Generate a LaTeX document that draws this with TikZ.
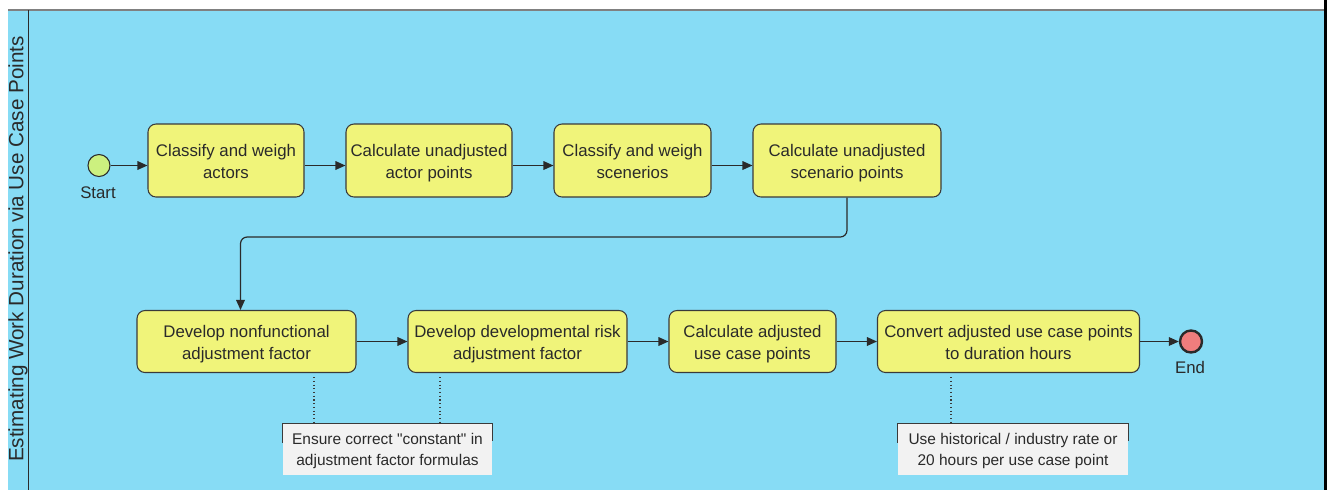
\documentclass[tikz,border=0pt]{standalone}
\usepackage{fontspec}
\setmainfont{Liberation Sans}
\usetikzlibrary{arrows.meta,calc}
\definecolor{poolblue}{HTML}{87DCF5}
\definecolor{taskfill}{HTML}{F0F47A}
\definecolor{startfill}{HTML}{CCF07F}
\definecolor{endfill}{HTML}{F07D7D}
\definecolor{notefill}{HTML}{F2F2F2}
\definecolor{ink}{HTML}{2A2A2A}
\definecolor{edge}{HTML}{3A3A3A}
\begin{document}
\begin{tikzpicture}[x=0.75pt,y=-0.75pt,
  boxsize/.style 2 args={minimum width=#1*0.75pt, minimum height=#2*0.75pt},
  task/.style={draw=edge, line width=0.8pt, fill=taskfill, rounded corners=6pt,
    inner sep=0pt, align=center, text=ink, font=\fontsize{12.6}{16.5}\selectfont,
    execute at begin node=\rule{0pt}{32pt}, execute at end node=\strut},
  event/.style={circle, draw=ink, inner sep=0pt, minimum size=16.5pt},
  evlabel/.style={text=ink, font=\fontsize{12.6}{15}\selectfont},
  flow/.style={draw=ink, line width=0.9pt, -{Triangle[length=7.5pt,width=6.5pt]}},
  note/.style={fill=notefill, inner sep=0pt, align=center, text=ink,
    font=\fontsize{11.6}{15.75}\selectfont,
    execute at begin node=\rule{0pt}{28pt}, execute at end node=\strut},
  noteline/.style={draw=edge, line width=0.8pt, dotted},
  bracket/.style={draw=edge, line width=0.9pt}]
\useasboundingbox (0,0) rectangle (1330,490);

% pool and lane header
\fill[poolblue] (8,10) rectangle (1325,490);
\draw[gray, line width=1.5pt] (8,10) -- (1325,10);
\draw[ink, line width=0.8pt] (28.5,10) -- (28.5,490);
\draw[black, line width=2.2pt] (1325.5,0) -- (1325.5,490);
\node[rotate=90, text=ink, font=\fontsize{15.5}{18}\selectfont] (lane) at (18,249)
  {Estimating Work Duration via Use Case Points};

% events
\node[event, fill=startfill, line width=0.8pt] (s) at (99,165.5) {};
\node[evlabel] (slab) at (98,193) {Start};
\node[event, fill=endfill, line width=1.8pt] (e) at (1191,341.5) {};
\node[evlabel] (elab) at (1190,367.5) {End};

% first row of tasks
\node[task, boxsize={156}{73}] (t1) at (226,160.5) {Classify and weigh\\actors};
\node[task, boxsize={166}{73}] (t2) at (429,160.5) {Calculate unadjusted\\actor points};
\node[task, boxsize={157}{73}] (t3) at (632.5,160.5) {Classify and weigh\\scenerios};
\node[task, boxsize={188}{73}] (t4) at (847,160.5) {Calculate unadjusted\\scenario points};

% second row of tasks
\node[task, boxsize={219}{62}] (t5) at (246.5,341.5) {Develop nonfunctional\\adjustment factor};
\node[task, boxsize={219}{62}] (t6) at (517.5,341.5) {Develop developmental risk\\adjustment factor};
\node[task, boxsize={167}{62}] (t7) at (752.5,341.5) {Calculate adjusted\\use case points};
\node[task, boxsize={262}{62}] (t8) at (1008.5,341.5) {Convert adjusted use case points\\to duration hours};

% sequence flows
\draw[flow] (s) -- (t1.west |- s);
\draw[flow] (t1.east |- s) -- (t2.west |- s);
\draw[flow] (t2.east |- s) -- (t3.west |- s);
\draw[flow] (t3.east |- s) -- (t4.west |- s);
\coordinate (bend) at (240.5,237);
\draw[flow, rounded corners=5pt] (t4.south) |- (bend) -- (t5.north -| bend);
\draw[flow] (t5) -- (t6);
\draw[flow] (t6) -- (t7);
\draw[flow] (t7) -- (t8);
\draw[flow] (t8) -- (e);

% annotations
\node[note, boxsize={209}{51}] (n1) at (387.5,449.5)
  {Ensure correct \textquotedbl constant\textquotedbl{} in\\adjustment factor formulas};
\node[note, boxsize={230}{51}] (n2) at (1013,449.5)
  {Use historical / industry rate or\\20 hours per use case point};
\draw[bracket] ([yshift=-19*0.75pt]n1.north west) -- (n1.north west) -- (n1.north east) -- ++(0,17);
\draw[bracket] ([yshift=-19*0.75pt]n2.north west) -- (n2.north west) -- (n2.north east) -- ++(0,17);

% associations
\coordinate (a1) at (314,424);
\coordinate (a2) at (440,424);
\coordinate (a3) at (951,424);
\draw[noteline] ([yshift=-4*0.75pt]t5.south -| a1) -- (a1);
\draw[noteline] ([yshift=-4*0.75pt]t6.south -| a2) -- (a2);
\draw[noteline] ([yshift=-4*0.75pt]t8.south -| a3) -- (a3);
\end{tikzpicture}
\end{document}
